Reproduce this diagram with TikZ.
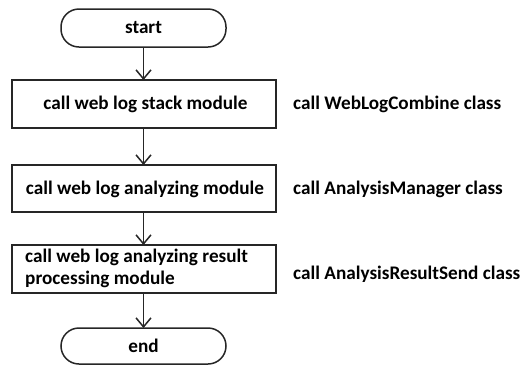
\documentclass[tikz,border=0pt]{standalone}
\usepackage{fontspec}
\setmainfont{Carlito}
\usetikzlibrary{arrows.meta}
\tikzset{
  flow/.style={draw=black!85, line width=1.5pt},
  term/.style={flow, rounded corners=18pt, fill=white},
  proc/.style={flow, fill=white},
  lbl/.style={font=\bfseries\fontsize{19.2}{22}\selectfont, inner sep=0pt},
  arr/.style={draw=black!85, line width=1.5pt, -{Straight Barb[length=9pt,width=15pt,line width=1.5pt]}}
}
\begin{document}
\begin{tikzpicture}[x=1pt,y=-1pt]
\useasboundingbox (0,0) rectangle (527,365);
% terminals and process boxes
\draw[term] (61,9) rectangle (226,47);
\node[lbl] (start) at (143.5,28) {start};
\coordinate (startb) at (143.5,47);
\draw[proc] (12,80) rectangle (276,128);
\coordinate (b1t) at (143.5,80);
\coordinate (b1b) at (143.5,128);
\node[lbl] (t1) at (145.5,104) {call web log stack module};
\draw[proc] (12,165) rectangle (276,212);
\coordinate (b2t) at (143.5,165);
\coordinate (b2b) at (143.5,212);
\node[lbl] (t2) at (145,189) {call web log analyzing module};
\draw[proc] (12,245) rectangle (276,293);
\coordinate (b3t) at (143.5,245);
\coordinate (b3b) at (143.5,293);
\node[lbl, anchor=west, align=left] (t3) at (25,268) {call web log analyzing result\\processing module};
\draw[term] (61,328) rectangle (226,364);
\node[lbl] (endn) at (143.5,346) {end};
\coordinate (endt) at (143.5,328);
% connectors
\draw[arr] (startb) -- (b1t);
\draw[arr] (b1b) -- (b2t);
\draw[arr] (b2b) -- (b3t);
\draw[arr] (b3b) -- (endt);
% class annotations
\node[lbl, anchor=west] (c1) at (293,104) {call WebLogCombine class};
\node[lbl, anchor=west] (c2) at (293,189) {call AnalysisManager class};
\node[lbl, anchor=west] (c3) at (293,274) {call AnalysisResultSend class};
\end{tikzpicture}
\end{document}
